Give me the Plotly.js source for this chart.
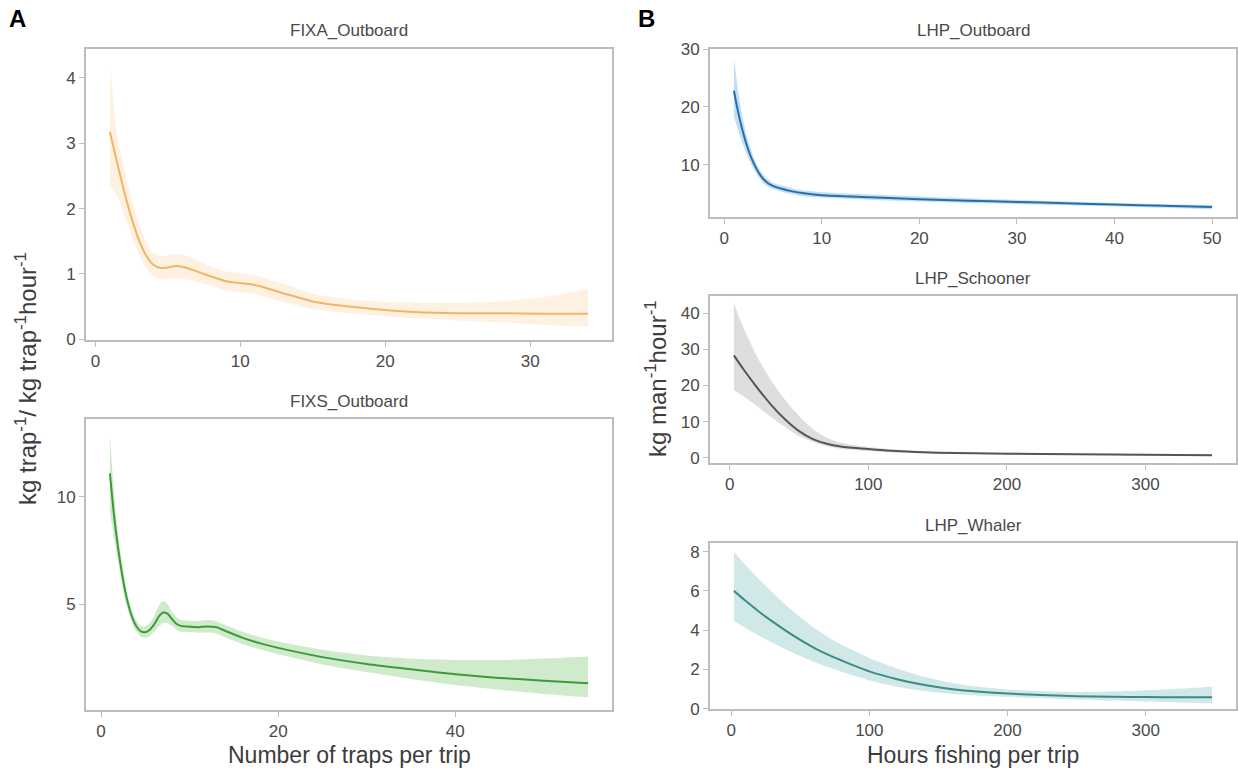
<!DOCTYPE html>
<html>
<head>
<meta charset="utf-8">
<script src="https://cdn.plot.ly/plotly-3.0.1.min.js"></script>
<style>html,body{margin:0;padding:0;background:#fff;}#chart{width:1238px;height:770px;}</style>
</head>
<body>
<div id="chart"></div>
<script>
// ---------- DATA ----------
// FIXA_Outboard (traps per trip)
const fixaX     = [1, 1.5, 2, 2.5, 3, 3.5, 4, 4.5, 5, 5.5, 6, 7, 8, 9, 10, 11, 12, 13, 14, 15, 16, 18, 20, 22, 25, 28, 31, 34];
const fixaFit   = [3.17, 2.7, 2.25, 1.85, 1.52, 1.28, 1.14, 1.09, 1.10, 1.12, 1.11, 1.04, 0.96, 0.89, 0.86, 0.83, 0.77, 0.70, 0.64, 0.58, 0.54, 0.49, 0.45, 0.42, 0.40, 0.40, 0.39, 0.39];
const fixaUpper = [4.2, 3.1, 2.6, 2.15, 1.78, 1.5, 1.32, 1.27, 1.29, 1.31, 1.30, 1.21, 1.11, 1.04, 1.01, 0.98, 0.92, 0.85, 0.77, 0.70, 0.66, 0.60, 0.57, 0.56, 0.56, 0.58, 0.65, 0.77];
const fixaLower = [2.35, 2.2, 1.9, 1.58, 1.3, 1.09, 0.97, 0.92, 0.92, 0.94, 0.93, 0.88, 0.82, 0.75, 0.72, 0.69, 0.63, 0.57, 0.51, 0.46, 0.43, 0.39, 0.35, 0.32, 0.29, 0.26, 0.22, 0.19];

// FIXS_Outboard
const fixsX     = [1, 1.5, 2, 2.5, 3, 3.5, 4, 4.5, 5, 5.5, 6, 6.5, 7, 7.5, 8, 8.5, 9, 10, 11, 12, 13, 14, 16, 18, 20, 25, 30, 35, 40, 45, 50, 55];
const fixsFit   = [11.1, 9.0, 7.4, 6.1, 5.1, 4.4, 3.95, 3.72, 3.68, 3.8, 4.05, 4.4, 4.6, 4.55, 4.3, 4.08, 3.98, 3.94, 3.92, 3.95, 3.92, 3.75, 3.42, 3.16, 2.95, 2.52, 2.2, 1.95, 1.72, 1.55, 1.42, 1.3];
const fixsUpper = [12.9, 10.0, 8.0, 6.6, 5.45, 4.7, 4.22, 3.98, 3.95, 4.12, 4.45, 4.9, 5.15, 5.0, 4.65, 4.38, 4.27, 4.22, 4.2, 4.25, 4.2, 4.03, 3.7, 3.45, 3.25, 2.86, 2.6, 2.45, 2.38, 2.38, 2.45, 2.55];
const fixsLower = [9.3, 8.0, 6.8, 5.6, 4.75, 4.1, 3.7, 3.47, 3.42, 3.5, 3.7, 3.95, 4.1, 4.1, 3.97, 3.8, 3.7, 3.68, 3.66, 3.67, 3.62, 3.45, 3.13, 2.87, 2.65, 2.18, 1.82, 1.5, 1.22, 1.0, 0.8, 0.65];

// LHP_Outboard (hours per trip)
const lhpoX     = [1, 1.5, 2, 2.5, 3, 3.5, 4, 4.5, 5, 6, 7, 8, 10, 15, 20, 25, 30, 35, 40, 45, 50];
const lhpoFit   = [22.8, 18.6, 15.2, 12.5, 10.4, 8.8, 7.6, 6.85, 6.4, 5.85, 5.45, 5.15, 4.8, 4.45, 4.1, 3.85, 3.62, 3.4, 3.18, 2.95, 2.75];
const lhpoUpper = [28.4, 22.0, 17.3, 13.9, 11.4, 9.6, 8.3, 7.5, 6.95, 6.4, 5.95, 5.65, 5.3, 4.9, 4.55, 4.25, 3.95, 3.7, 3.45, 3.25, 3.15];
const lhpoLower = [18.4, 15.6, 13.2, 11.1, 9.4, 8.0, 6.9, 6.25, 5.85, 5.35, 4.95, 4.65, 4.35, 4.0, 3.7, 3.45, 3.25, 3.05, 2.85, 2.62, 2.35];

// LHP_Schooner
const lhpsX     = [3, 10, 20, 30, 40, 50, 60, 70, 80, 100, 120, 150, 200, 250, 300, 348];
const lhpsFit   = [28.3, 24.4, 19.3, 14.6, 10.6, 7.4, 5.2, 3.9, 3.15, 2.45, 1.9, 1.42, 1.15, 1.0, 0.85, 0.75];
const lhpsUpper = [42.7, 35.8, 27.8, 21.3, 16.0, 11.6, 8.0, 5.6, 4.2, 3.05, 2.35, 1.72, 1.4, 1.2, 1.05, 1.0];
const lhpsLower = [18.7, 17.0, 14.2, 11.2, 8.5, 6.1, 4.4, 3.25, 2.55, 1.9, 1.48, 1.12, 0.95, 0.8, 0.65, 0.5];

// LHP_Whaler
const lhpwX     = [2, 10, 20, 30, 40, 50, 60, 70, 80, 100, 120, 140, 160, 180, 200, 220, 250, 275, 300, 325, 348];
const lhpwFit   = [6.0, 5.52, 4.95, 4.43, 3.95, 3.5, 3.1, 2.75, 2.45, 1.9, 1.5, 1.2, 0.99, 0.86, 0.77, 0.7, 0.63, 0.6, 0.59, 0.58, 0.58];
const lhpwUpper = [8.0, 7.35, 6.6, 5.9, 5.25, 4.65, 4.12, 3.65, 3.25, 2.58, 2.05, 1.62, 1.3, 1.1, 0.98, 0.9, 0.85, 0.87, 0.93, 1.02, 1.12];
const lhpwLower = [4.45, 4.12, 3.72, 3.35, 3.0, 2.68, 2.38, 2.12, 1.88, 1.45, 1.12, 0.9, 0.75, 0.66, 0.6, 0.54, 0.46, 0.41, 0.36, 0.31, 0.27];

const panelTitles = ["FIXA_Outboard", "FIXS_Outboard", "LHP_Outboard", "LHP_Schooner", "LHP_Whaler"];

// ---------- STYLE / LAYOUT ----------
const W = 1238, H = 770;
const px = v => v / W;
const py = v => 1 - v / H;
const FONT = "Liberation Sans, Arial, Helvetica, sans-serif";
const TXT = "#4a4a4a";
const FRAME = "#bdbdbd";

const panels = [
  {x: fixaX, fit: fixaFit, up: fixaUpper, lo: fixaLower, line: "#f0b565", band: "rgba(253,196,130,0.24)",
   box: [86, 612, 49, 340], xr: [-0.65, 35.65], yr: [-0.01, 4.44], dx: 10, dy: 1},
  {x: fixsX, fit: fixsFit, up: fixsUpper, lo: fixsLower, line: "#3d9a38", band: "rgba(120,198,110,0.35)",
   box: [86, 612, 419, 710], xr: [-1.7, 57.7], yr: [0.05, 13.64], dx: 20, dy: 5},
  {x: lhpoX, fit: lhpoFit, up: lhpoUpper, lo: lhpoLower, line: "#2b6ea6", band: "rgba(110,185,235,0.45)",
   box: [710, 1236, 49, 217], xr: [-1.45, 52.45], yr: [1.03, 30.0], dx: 10, dy: 10},
  {x: lhpsX, fit: lhpsFit, up: lhpsUpper, lo: lhpsLower, line: "#555555", band: "rgba(160,160,160,0.35)",
   box: [710, 1236, 296, 463], xr: [-14.25, 365.25], yr: [-1.4, 44.7], dx: 100, dy: 10},
  {x: lhpwX, fit: lhpwFit, up: lhpwUpper, lo: lhpwLower, line: "#3a8c88", band: "rgba(120,190,190,0.35)",
   box: [710, 1236, 543, 709], xr: [-15.3, 365.3], yr: [-0.02, 8.44], dx: 100, dy: 2}
];

const data = [];
const layout = {
  width: W, height: H,
  margin: {l: 0, r: 0, t: 0, b: 0},
  paper_bgcolor: "#fff", plot_bgcolor: "#fff",
  showlegend: false,
  font: {family: FONT, color: TXT},
  annotations: []
};

panels.forEach((p, i) => {
  const n = i === 0 ? "" : String(i + 1);
  const xa = "x" + n, ya = "y" + n;
  const sm = {shape: "spline", smoothing: 0.7};
  data.push({x: p.x, y: p.lo, xaxis: xa, yaxis: ya, mode: "lines",
             line: Object.assign({width: 0, color: p.band}, sm), hoverinfo: "skip"});
  data.push({x: p.x, y: p.up, xaxis: xa, yaxis: ya, mode: "lines", fill: "tonexty",
             fillcolor: p.band, line: Object.assign({width: 0, color: p.band}, sm), hoverinfo: "skip"});
  data.push({x: p.x, y: p.fit, xaxis: xa, yaxis: ya, mode: "lines",
             line: Object.assign({width: 2, color: p.line}, sm)});
  const common = {
    showgrid: false, zeroline: false, showline: true, mirror: true,
    linecolor: FRAME, linewidth: 2, ticks: "outside", ticklen: 5, tickwidth: 1,
    tickcolor: FRAME, tickfont: {size: 17, color: TXT, family: FONT}
  };
  layout["xaxis" + n] = Object.assign({}, common, {
    domain: [px(p.box[0]), px(p.box[1])], anchor: ya, range: p.xr, dtick: p.dx, tick0: 0
  });
  layout["yaxis" + n] = Object.assign({}, common, {
    domain: [py(p.box[3]), py(p.box[2])], anchor: xa, range: p.yr, dtick: p.dy, tick0: 0
  });
  layout.annotations.push({
    xref: "paper", yref: "paper", x: px((p.box[0] + p.box[1]) / 2), y: py(p.box[2] - 18),
    text: panelTitles[i], showarrow: false, xanchor: "center", yanchor: "middle",
    font: {size: 17, color: TXT, family: FONT}
  });
});

layout.annotations.push(
  {xref: "paper", yref: "paper", x: px(349), y: py(755), text: "Number of traps per trip",
   showarrow: false, xanchor: "center", yanchor: "middle", font: {size: 23, color: "#3d3d3d", family: FONT}},
  {xref: "paper", yref: "paper", x: px(973), y: py(755), text: "Hours fishing per trip",
   showarrow: false, xanchor: "center", yanchor: "middle", font: {size: 23, color: "#3d3d3d", family: FONT}},
  {xref: "paper", yref: "paper", x: px(26), y: py(379), textangle: -90,
   text: "kg trap<sup>-1</sup>/ kg trap<sup>-1</sup>hour<sup>-1</sup>",
   showarrow: false, xanchor: "center", yanchor: "middle", font: {size: 24, color: "#3d3d3d", family: FONT}},
  {xref: "paper", yref: "paper", x: px(656), y: py(379), textangle: -90,
   text: "kg man<sup>-1</sup>hour<sup>-1</sup>",
   showarrow: false, xanchor: "center", yanchor: "middle", font: {size: 24, color: "#3d3d3d", family: FONT}},
  {xref: "paper", yref: "paper", x: px(17), y: py(18), text: "<b>A</b>",
   showarrow: false, xanchor: "center", yanchor: "middle", font: {size: 24, color: "#000", family: FONT}},
  {xref: "paper", yref: "paper", x: px(646), y: py(18), text: "<b>B</b>",
   showarrow: false, xanchor: "center", yanchor: "middle", font: {size: 24, color: "#000", family: FONT}}
);

Plotly.newPlot("chart", data, layout, {displayModeBar: false, staticPlot: true});
</script>
</body>
</html>
